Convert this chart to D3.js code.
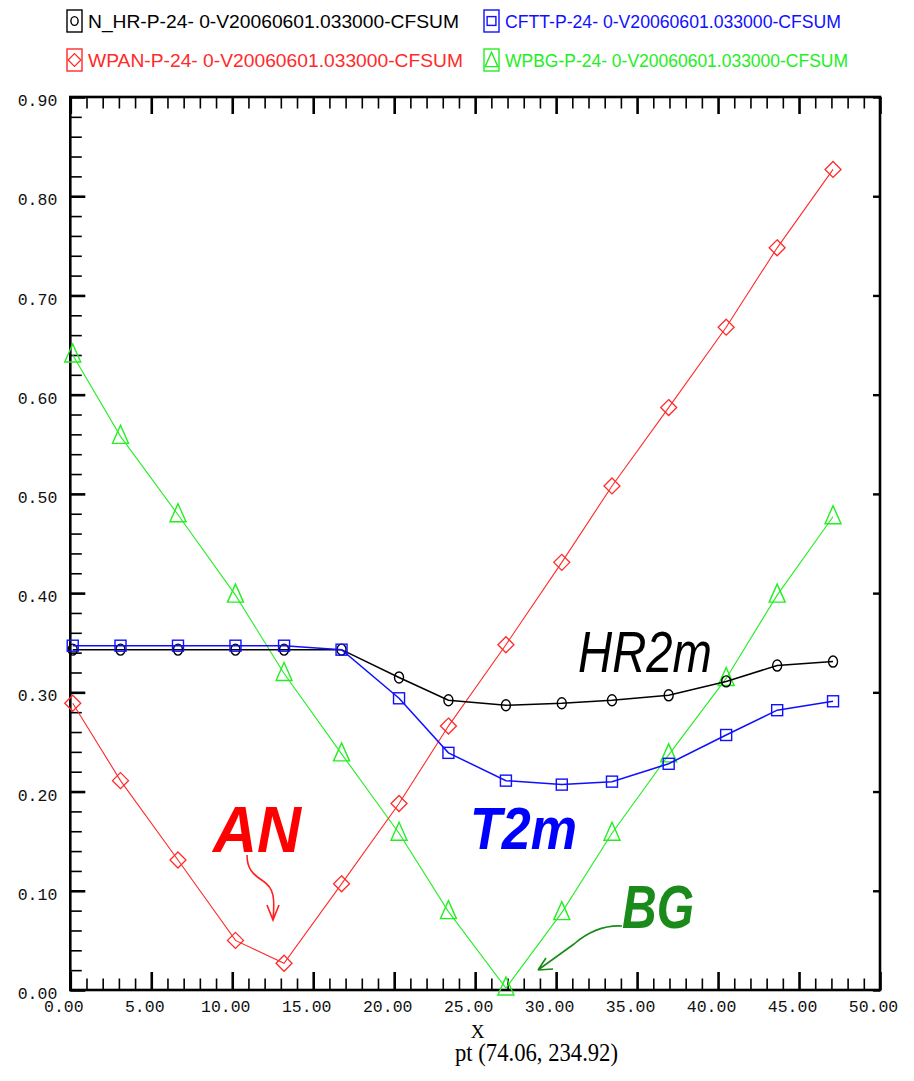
<!DOCTYPE html>
<html><head><meta charset="utf-8">
<script src="https://cdn.jsdelivr.net/npm/d3@7/dist/d3.min.js"></script>
<style>body{margin:0;background:#fff}svg{display:block}</style>
</head><body><svg id="c" width="914" height="1081"></svg>
<script>
// ---- data ----
const xValues = [0.15, 3.1, 6.65, 10.2, 13.2, 16.75, 20.3, 23.35, 26.9, 30.35, 33.45, 36.95, 40.5, 43.65, 47.1];
const hrValues = [0.343, 0.343, 0.343, 0.343, 0.343, 0.343, 0.315, 0.292, 0.287, 0.289, 0.292, 0.297, 0.311, 0.327, 0.331];
const t2mValues = [0.347, 0.347, 0.347, 0.347, 0.347, 0.343, 0.294, 0.239, 0.211, 0.207, 0.210, 0.228, 0.257, 0.282, 0.291];
const anValues = [0.289, 0.211, 0.131, 0.050, 0.027, 0.107, 0.188, 0.266, 0.348, 0.431, 0.508, 0.587, 0.668, 0.748, 0.827];
const bgValues = [0.640, 0.558, 0.479, 0.398, 0.319, 0.238, 0.158, 0.079, 0.002, 0.078, 0.158, 0.237, 0.314, 0.398, 0.477];
const seriesNames = ["N_HR-P-24- 0-V20060601.033000-CFSUM", "CFTT-P-24- 0-V20060601.033000-CFSUM",
                     "WPAN-P-24- 0-V20060601.033000-CFSUM", "WPBG-P-24- 0-V20060601.033000-CFSUM"];
const xTickValues = [0, 5, 10, 15, 20, 25, 30, 35, 40, 45, 50];
const xTickLabels = ["0.00", "5.00", "10.00", "15.00", "20.00", "25.00", "30.00", "35.00", "40.00", "45.00", "50.00"];
const yTickValues = [0, 0.1, 0.2, 0.3, 0.4, 0.5, 0.6, 0.7, 0.8, 0.9];
const yTickLabels = ["0.00", "0.10", "0.20", "0.30", "0.40", "0.50", "0.60", "0.70", "0.80", "0.90"];
const xMinorTicks = d3.range(0, 51, 1).filter(v => v % 5 !== 0);
const yMinorTicks = d3.range(0, 46, 1).filter(v => v % 5 !== 0).map(v => v / 50);
const annotations = ["HR2m", "T2m", "AN", "BG"];
const xAxisTitle = "X";
const subTitle = "pt (74.06, 234.92)";

// ---- setup ----
const svg = d3.select("#c");
svg.append("rect").attr("width", 914).attr("height", 1081).attr("fill", "#fff");
const x = d3.scaleLinear().domain([0, 50]).range([70.3, 880]);
const y = d3.scaleLinear().domain([0, 0.9]).range([990, 97]);
const monoFont = "'Liberation Mono', 'DejaVu Sans Mono', monospace";

function styleAxis(g, w) {
  g.select(".domain").remove();
  g.selectAll(".tick line").attr("stroke", "#000").attr("stroke-width", w);
}
// left axis
svg.append("g").attr("transform", `translate(${x(0)},0)`)
  .call(d3.axisLeft(y).tickValues(yMinorTicks).tickSize(-11.5).tickFormat(""))
  .call(g => styleAxis(g, 1.6));
svg.append("g").attr("transform", `translate(${x(0)},0)`)
  .call(d3.axisLeft(y).tickValues(yTickValues).tickSize(-15).tickPadding(13)
    .tickFormat((d, i) => yTickLabels[i]))
  .call(g => styleAxis(g, 2.6))
  .call(g => g.selectAll("text").attr("font-family", monoFont).attr("font-size", 16.5)
    .attr("fill", "#111").attr("dy", "0.52em"));
// right axis (major only)
svg.append("g").attr("transform", `translate(${x(50)},0)`)
  .call(d3.axisRight(y).tickValues(yTickValues).tickSize(-7).tickFormat(""))
  .call(g => styleAxis(g, 2.4));
// bottom axis
svg.append("g").attr("transform", `translate(0,${y(0)})`)
  .call(d3.axisBottom(x).tickValues(xMinorTicks).tickSize(-11.5).tickFormat(""))
  .call(g => styleAxis(g, 1.6));
svg.append("g").attr("transform", `translate(0,${y(0)})`)
  .call(d3.axisBottom(x).tickValues(xTickValues).tickSize(-18).tickPadding(10)
    .tickFormat((d, i) => xTickLabels[i]))
  .call(g => styleAxis(g, 2.6))
  .call(g => g.selectAll("text").attr("font-family", monoFont).attr("font-size", 16.5)
    .attr("fill", "#111").attr("dx", -7));
// top axis
svg.append("g").attr("transform", `translate(0,${y(0.9)})`)
  .call(d3.axisTop(x).tickValues(xMinorTicks).tickSize(-11.5).tickFormat(""))
  .call(g => styleAxis(g, 1.6));
svg.append("g").attr("transform", `translate(0,${y(0.9)})`)
  .call(d3.axisTop(x).tickValues(xTickValues).tickSize(-17).tickFormat(""))
  .call(g => styleAxis(g, 2.6));
// frame
svg.append("rect").attr("x", x(0)).attr("y", y(0.9)).attr("width", x(50) - x(0)).attr("height", y(0) - y(0.9))
  .attr("fill", "none").attr("stroke", "#000").attr("stroke-width", 2.6);

// ---- series ----
const series = [
  {vals: bgValues, color: "#22ee22", w: 1.1, marker: "tri"},
  {vals: anValues, color: "#ff2a2a", w: 1.1, marker: "dia"},
  {vals: hrValues, color: "#000", w: 1.5, marker: "circ"},
  {vals: t2mValues, color: "#1010ff", w: 1.5, marker: "sq"}
];
const line = d3.line().x(d => x(d[0])).y(d => y(d[1]));
function drawMarker(g, type, color, cx, cy, s) {
  s = s || 1;
  if (type === "circ") g.append("ellipse").attr("cx", cx).attr("cy", cy).attr("rx", 4.5 * s).attr("ry", 5.5 * s)
    .attr("fill", "none").attr("stroke", color).attr("stroke-width", 1.4);
  if (type === "sq") g.append("rect").attr("x", cx - 5.5 * s).attr("y", cy - 5.5 * s).attr("width", 11 * s).attr("height", 11 * s)
    .attr("fill", "none").attr("stroke", color).attr("stroke-width", 1.4);
  if (type === "dia") g.append("path").attr("d", `M${cx},${cy - 8 * s}L${cx + 8 * s},${cy}L${cx},${cy + 8 * s}L${cx - 8 * s},${cy}Z`)
    .attr("fill", "none").attr("stroke", color).attr("stroke-width", 1.3);
  if (type === "tri") g.append("path").attr("d", `M${cx},${cy - 11 * s}L${cx + 8 * s},${cy + 7 * s}L${cx - 8 * s},${cy + 7 * s}Z`)
    .attr("fill", "none").attr("stroke", color).attr("stroke-width", 1.4);
}
series.forEach(s => {
  const pts = xValues.map((xv, i) => [xv, s.vals[i]]);
  svg.append("path").attr("d", line(pts)).attr("fill", "none").attr("stroke", s.color).attr("stroke-width", s.w);
  const g = svg.append("g");
  pts.forEach(p => drawMarker(g, s.marker, s.color, x(p[0]), y(p[1])));
});

// ---- legend ----
const legendItems = [
  {name: seriesNames[0], color: "#000", marker: "circ", lx: 67, ly: 10, len: 371},
  {name: seriesNames[1], color: "#1010ff", marker: "sq", lx: 484, ly: 10, len: 336},
  {name: seriesNames[2], color: "#ff2a2a", marker: "dia", lx: 67, ly: 49, len: 375},
  {name: seriesNames[3], color: "#22ee22", marker: "tri", lx: 484, ly: 49, len: 343}
];
legendItems.forEach(it => {
  const g = svg.append("g");
  g.append("rect").attr("x", it.lx).attr("y", it.ly).attr("width", 15).attr("height", 22)
    .attr("fill", "none").attr("stroke", it.color).attr("stroke-width", 1.4);
  drawMarker(g, it.marker, it.color, it.lx + 7.5, it.ly + 11 + (it.marker === "tri" ? 1 : 0), 0.8);
  g.append("text").attr("x", it.lx + 21).attr("y", it.ly + 18).text(it.name)
    .attr("font-family", "'Liberation Sans', Arial, sans-serif").attr("font-size", 19)
    .attr("textLength", it.len).attr("lengthAdjust", "spacingAndGlyphs").attr("fill", it.color);
});

// ---- annotations ----
svg.append("text").attr("x", 578).attr("y", 672).text(annotations[0])
  .attr("font-family", "'Liberation Sans', Arial, sans-serif").attr("font-style", "italic").attr("font-size", 57)
  .attr("textLength", 134).attr("lengthAdjust", "spacingAndGlyphs").attr("fill", "#000");
svg.append("text").attr("x", 470).attr("y", 849).text(annotations[1])
  .attr("font-family", "'Liberation Sans', Arial, sans-serif").attr("font-style", "italic").attr("font-weight", "bold")
  .attr("font-size", 60).attr("textLength", 107).attr("lengthAdjust", "spacingAndGlyphs").attr("fill", "#0000ff");
svg.append("text").attr("x", 213).attr("y", 852).text(annotations[2])
  .attr("font-family", "'Liberation Sans', Arial, sans-serif").attr("font-style", "italic").attr("font-weight", "bold")
  .attr("font-size", 64).attr("textLength", 88).attr("lengthAdjust", "spacingAndGlyphs").attr("fill", "#ff0000");
svg.append("text").attr("x", 622).attr("y", 928).text(annotations[3])
  .attr("font-family", "'Liberation Sans', Arial, sans-serif").attr("font-style", "italic").attr("font-weight", "bold")
  .attr("font-size", 62).attr("textLength", 72).attr("lengthAdjust", "spacingAndGlyphs").attr("fill", "#1a8a1a");
// arrows
svg.append("path").attr("d", "M247,855 C247,868 252,874 263,881 C274,888 275,898 273,920 M267,905 L273,920 L279,905")
  .attr("fill", "none").attr("stroke", "#ff2020").attr("stroke-width", 1.6);
svg.append("path").attr("d", "M622,926 C603,925 588,932 574,944 L538,970 M538,970 L553,969 M538,970 L546,958")
  .attr("fill", "none").attr("stroke", "#1a8a1a").attr("stroke-width", 1.6);

// ---- axis titles ----
svg.append("text").attr("x", 477.7).attr("y", 1038).attr("text-anchor", "middle").text(xAxisTitle)
  .attr("font-family", "'Liberation Serif', 'Times New Roman', serif").attr("font-size", 19).attr("fill", "#000");
svg.append("text").attr("x", 455).attr("y", 1061).text(subTitle)
  .attr("font-family", "'Liberation Serif', 'Times New Roman', serif").attr("font-size", 26)
  .attr("textLength", 163).attr("lengthAdjust", "spacingAndGlyphs").attr("fill", "#000");
</script></body></html>
